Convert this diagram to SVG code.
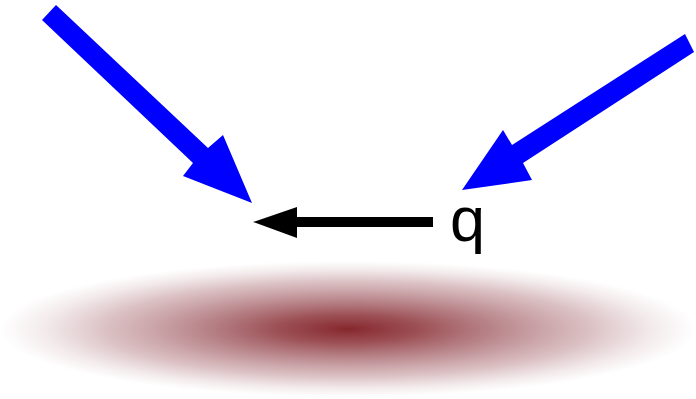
<svg xmlns="http://www.w3.org/2000/svg" width="696" height="399" viewBox="0 0 696 399">
<style>
.blue{fill:#0000ff;stroke:none}
.blk{fill:#000;stroke:none}
.lbl{font-family:"Liberation Sans",Arial,sans-serif;font-size:63px;fill:#000}
</style>
<defs>
<radialGradient id="g" cx="0.5" cy="0.5" r="0.5">
<stop offset="0" stop-color="#86282e" stop-opacity="1"/>
<stop offset="0.2" stop-color="#8a3036" stop-opacity="0.85"/>
<stop offset="0.45" stop-color="#904048" stop-opacity="0.6"/>
<stop offset="0.7" stop-color="#9a5058" stop-opacity="0.35"/>
<stop offset="0.88" stop-color="#a06068" stop-opacity="0.12"/>
<stop offset="1" stop-color="#a06068" stop-opacity="0"/>
</radialGradient>
</defs>
<rect width="696" height="399" fill="#fff"/>
<g id="surface">
<ellipse cx="348" cy="329" rx="348" ry="68" fill="url(#g)"/>
</g>
<g id="connectors">
<polygon id="arrow-left" class="blue" points="56,5 42,20 193,163 183,176 252,203 223,135 208,148"/>
<polygon id="arrow-right" class="blue" points="685,34 694,52 523,163 532,180 462,190 503,130 512,145"/>
<polygon id="arrow-q" class="blk" points="433,217 433,227 297,227 297,238 253,222 297,207 297,217"/>
</g>
<g id="label-q">
<text class="lbl" x="450" y="241">q</text>
</g>
</svg>
